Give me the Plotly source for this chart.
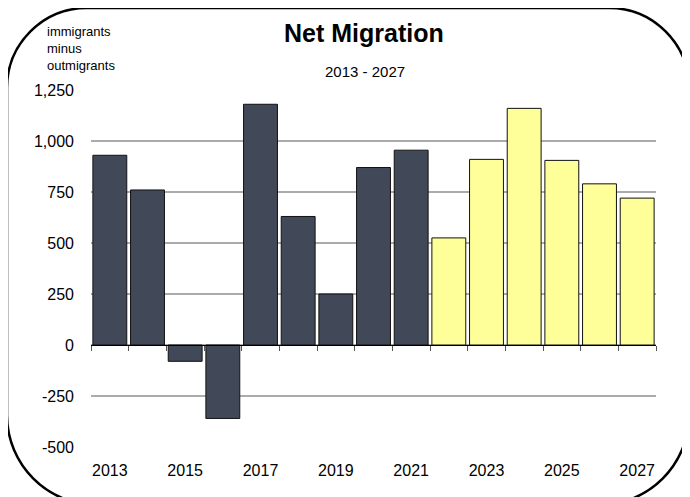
import plotly.graph_objects as go

# ---- data ----
hist_years = [2013, 2014, 2015, 2016, 2017, 2018, 2019, 2020, 2021]
hist_values = [930, 760, -80, -360, 1180, 630, 250, 870, 955]
proj_years = [2022, 2023, 2024, 2025, 2026, 2027]
proj_values = [525, 910, 1160, 905, 790, 720]
x_tick_years = [2013, 2015, 2017, 2019, 2021, 2023, 2025, 2027]
y_ticks = [-500, -250, 0, 250, 500, 750, 1000, 1250]
y_tick_text = ["-500", "-250", "0", "250", "500", "750", "1,000", "1,250"]
title_text = "Net Migration"
subtitle_text = "2013 - 2027"
ylabel_lines = ["immigrants", "minus", "outmigrants"]

OFF = 8  # page body margin
W, H = 690 - OFF, 497 - OFF
FONT = "Liberation Sans, Arial, sans-serif"


def px(x):
    return (x - OFF) / W


def py(y):
    return 1 - (y - OFF) / H


# plot area in (window) pixels
PL, PR, PT, PB = 91, 656, 90, 447
xdom = [px(PL), px(PR)]
ydom = [py(PB), py(PT)]
ymin, ymax = -500, 1250
zero_pos = ydom[0] + (0 - ymin) / (ymax - ymin) * (ydom[1] - ydom[0])

all_years = hist_years + proj_years
xr = [min(all_years) - 0.5, max(all_years) + 0.5]
boundaries = [y - 0.5 for y in all_years] + [max(all_years) + 0.5]

fig = go.Figure()
fig.add_trace(go.Bar(x=hist_years, y=hist_values, marker=dict(color="#414857", line=dict(color="#111111", width=1)),
                     showlegend=False, hoverinfo="x+y"))
fig.add_trace(go.Bar(x=proj_years, y=proj_values, marker=dict(color="#FFFF99", line=dict(color="#111111", width=1)),
                     showlegend=False, hoverinfo="x+y"))
# helper trace for zero-line axis
fig.add_trace(go.Scatter(x=[xr[0]], y=[0], xaxis="x2", yaxis="y", mode="markers",
                         marker=dict(opacity=0), showlegend=False, hoverinfo="skip"))


def rounded_path(l, t, r, b, rt, rb):
    k = 0.5523
    pts = []
    pts.append(f"M {px(l + rt)} {py(t)}")
    pts.append(f"L {px(r - rt)} {py(t)}")
    pts.append(f"C {px(r - rt + k * rt)} {py(t)} {px(r)} {py(t + rt - k * rt)} {px(r)} {py(t + rt)}")
    pts.append(f"L {px(r)} {py(b - rb)}")
    pts.append(f"C {px(r)} {py(b - rb + k * rb)} {px(r - rb + k * rb)} {py(b)} {px(r - rb)} {py(b)}")
    pts.append(f"L {px(l + rb)} {py(b)}")
    pts.append(f"C {px(l + rb - k * rb)} {py(b)} {px(l)} {py(b - rb + k * rb)} {px(l)} {py(b - rb)}")
    pts.append(f"L {px(l)} {py(t + rt)}")
    pts.append(f"C {px(l)} {py(t + rt - k * rt)} {px(l + rt - k * rt)} {py(t)} {px(l + rt)} {py(t)}")
    pts.append("Z")
    return " ".join(pts)


fig.add_shape(type="path", xref="paper", yref="paper",
              path=rounded_path(7, 8, 689, 505, 80, 90),
              line=dict(color="black", width=2.5), layer="above")

annotations = [
    dict(text=f"<b>{title_text}</b>", x=px(364), y=py(33), xref="paper", yref="paper",
         showarrow=False, font=dict(size=25, color="black", family=FONT), xanchor="center", yanchor="middle"),
    dict(text=subtitle_text, x=px(365), y=py(72), xref="paper", yref="paper",
         showarrow=False, font=dict(size=15, color="black", family=FONT), xanchor="center", yanchor="middle"),
    dict(text="<br>".join(ylabel_lines), x=px(45), y=py(48), xref="paper", yref="paper",
         showarrow=False, font=dict(size=13, color="black", family=FONT),
         xanchor="left", yanchor="middle", align="left"),
]

fig.update_layout(
    width=W, height=H,
    margin=dict(l=0, r=0, t=0, b=0),
    paper_bgcolor="white", plot_bgcolor="white",
    barmode="overlay", bargap=0.1,
    font=dict(family=FONT, size=16, color="black"),
    annotations=annotations,
    xaxis=dict(domain=xdom, range=xr, tickvals=x_tick_years, ticktext=[str(y) for y in x_tick_years],
               showgrid=False, zeroline=False, showline=False, ticks="", automargin=False,
               anchor="y", ticklabelstandoff=12, tickfont=dict(size=16)),
    xaxis2=dict(domain=xdom, range=xr, overlaying="x", anchor="free", position=zero_pos, side="bottom",
                showline=True, linecolor="black", linewidth=1, ticks="outside", ticklen=5,
                tickcolor="#555555", tickwidth=1, tickvals=boundaries, showticklabels=False,
                showgrid=False, zeroline=False, automargin=False),
    yaxis=dict(domain=ydom, range=[ymin, ymax], tickvals=y_ticks, ticktext=y_tick_text,
               showgrid=True, gridcolor="#ABABAB", gridwidth=1.5, zeroline=False, showline=False,
               ticks="", automargin=False, ticklabelstandoff=16, tickfont=dict(size=16)),
)

fig.write_html("out.html")
